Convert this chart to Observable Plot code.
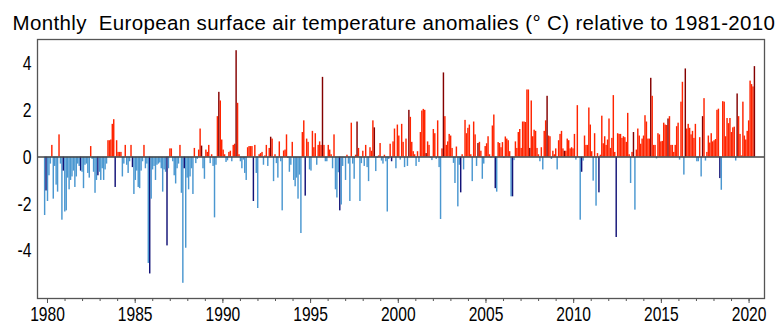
<!DOCTYPE html>
<html>
<head>
<meta charset="utf-8">
<script src="https://cdn.jsdelivr.net/npm/d3@7"></script>
<script src="https://cdn.jsdelivr.net/npm/@observablehq/plot@0.6"></script>
<style>
  html, body { margin: 0; padding: 0; background: #fff; }
  #chart { position: relative; width: 782px; height: 327px; }
  #chart svg { display: block; position: absolute; left: 0; top: 0; }
</style>
</head>
<body>
<div id="chart"></div>
<script>
const titleText = "Monthly  European surface air temperature anomalies (° C) relative to 1981-2010";
const firstYear = 1979;
const anomalies = [
  // 1979
  -2.5, -1.45, -1.9, -0.8, -0.3, 0.5, -1.8, -0.4, -1.2, -1.5, 0.95, -0.3,
  // 1980
  -2.7, -0.6, -2.35, -2.3, -0.9, -1.4, -1.0, -0.85, -0.6, -1.3, -0.85, -0.3,
  // 1981
  -0.4, -0.6, -0.65, -1.35, -0.35, -0.3, -0.7, -0.9, 0.45, -0.1, -0.65, -1.55,
  // 1982
  -1.0, -0.8, -0.65, -1.0, -0.5, -1.0, -0.55, -0.3, 0.7, 0.7, 0.73, 1.4,
  // 1983
  1.6, -1.3, 0.7, 0.2, 0.2, 0.2, -0.85, -0.3, 0.5, -0.35, -0.7, -0.2,
  // 1984
  0.5, -0.45, -1.6, -1.0, -0.6, -1.3, -1.35, -0.6, -0.2, 0.5, -0.5, -0.3,
  // 1985
  -4.55, -5.0, -1.8, -0.55, -0.4, -1.0, -0.35, -0.3, -0.25, -0.5, -1.5, -0.55,
  // 1986
  -0.65, -3.8, -0.5, 0.35, 0.35, -0.2, -0.8, -1.15, -0.5, -0.3, 0.5, -1.55,
  // 1987
  -5.4, -0.5, -3.9, -0.9, -1.4, -0.85, -0.5, -1.6, 0.37, -0.28, -0.1, 0.3,
  // 1988
  1.2, 0.47, -0.5, -0.95, 0.3, 0.2, 0.5, -0.28, 0.1, -0.4, -2.6, -0.35,
  // 1989
  1.73, 2.77, 2.4, 0.73, 0.3, 0.1, -0.23, -0.16, 0.2, 0.25, -0.2, 0.5,
  // 1990
  0.55, 4.55, 2.3, 0.1, -0.2, -0.5, -0.13, -0.7, -1.0, 0.4, 0.45, 0.45,
  // 1991
  0.45, -1.9, 0.5, -0.7, -2.2, 0.1, 0.15, 0.2, -0.35, 0.05, 0.5, -0.4,
  // 1992
  0.37, 0.85, 0.77, -1.05, 0.1, -0.28, -0.9, 0.65, -0.2, -2.3, 0.26, 0.3,
  // 1993
  0.95, -0.05, -0.65, -0.35, 0.63, -1.0, -1.27, -0.9, -1.8, -0.77, -3.27, 1.05,
  // 1994
  1.55, -1.67, 0.77, 0.63, -0.55, -0.6, 1.1, 0.4, 1.0, -0.35, 0.5, 0.65,
  // 1995
  0.5, 3.41, 0.5, -0.2, -0.2, 0.5, 0.3, 0.1, -0.5, 0.95, -1.4, -1.75,
  // 1996
  -0.67, -2.3, -2.05, -0.4, -0.05, -1.0, 0.08, -0.3, -1.9, 1.45, -0.3, -0.95,
  // 1997
  0.08, 1.5, 0.37, -1.9, -0.28, 0.25, -0.4, 0.5, -0.45, -1.05, 0.4, 0.25,
  // 1998
  1.55, 1.25, -0.62, -0.05, 0.05, 0.58, -0.17, -0.3, 0.08, -0.2, -2.35, -0.1,
  // 1999
  0.55, -0.2, 0.65, 1.2, -0.5, 1.37, 0.9, -0.13, 1.4, 0.63, -0.45, 0.77,
  // 2000
  -0.4, 2.0, 1.7, 0.63, 0.23, 0.1, -0.4, 0.23, -0.23, 1.05, 1.97, 2.04,
  // 2001
  2.0, 0.15, 0.65, 0.5, -0.05, -0.15, 1.18, 1.0, -0.1, 1.55, -0.45, -2.67,
  // 2002
  0.35, 3.6, 1.73, 0.5, 0.65, 0.97, 0.9, 0.37, -0.27, -1.13, 0.43, -2.13,
  // 2003
  -0.35, -1.53, 0.1, -0.55, 1.57, 1.0, 1.23, 1.37, 0.1, -1.05, 1.5, 0.95,
  // 2004
  -0.4, 0.58, 0.63, 0.25, -0.95, -0.3, 0.45, 0.57, 0.87, 0.1, -0.05, 1.33,
  // 2005
  1.8, -1.35, -1.5, 0.62, 0.58, 0.4, 0.62, -0.05, 0.86, 0.77, 0.7, 0.23,
  // 2006
  -1.7, -1.7, -0.15, 0.65, 0.37, 1.05, 1.18, 0.37, 1.5, 1.5, 1.48, 2.87,
  // 2007
  2.87, 0.37, 2.4, 0.87, 1.15, 1.1, 0.37, 0.1, -0.2, 0.4, -0.55, 1.1,
  // 2008
  1.55, 2.6, 0.9, 0.87, -0.1, 0.25, 0.1, 0.35, -0.55, 0.7, 0.97, 1.1,
  // 2009
  0.35, 0.25, 0.25, 0.77, 0.7, 0.35, 0.4, 0.35, 0.97, -0.13, 2.2, 0.02,
  // 2010
  -2.7, -0.65, -0.17, 0.9, 0.5, 0.5, 2.1, 1.37, 0.23, -1.03, 1.0, -2.1,
  // 2011
  0.15, -1.53, 0.08, 1.75, 0.57, 0.87, 0.5, 0.73, 1.63, 0.37, 0.8, 2.63,
  // 2012
  0.2, -3.44, 1.0, 0.97, 0.97, 0.8, 0.87, 0.83, 0.63, 1.87, 0.1, -1.13,
  // 2013
  0.2, 1.05, -2.27, 0.3, 1.2, 0.9, 0.55, 0.77, 0.9, 1.77, 1.5, 0.77,
  // 2014
  0.77, 3.37, 2.6, 0.5, 0.5, -0.08, 1.0, 0.95, 0.65, 0.67, 1.45, 1.37,
  // 2015
  1.35, 1.63, 1.73, 0.5, 0.5, 0.2, 0.5, 1.3, 1.45, -0.13, 2.35, 3.2,
  // 2016
  -0.77, 3.77, 1.2, 1.4, 1.23, 0.95, 1.1, 0.8, 1.4, -0.2, -0.2, 0.83,
  // 2017
  -0.85, 1.73, 2.5, -0.17, 0.2, 0.9, 0.6, 1.0, 0.65, 0.7, 0.75, 2.0,
  // 2018
  2.05, -0.92, -1.42, 2.37, 2.35, 0.87, 1.65, 1.43, 1.65, 1.05, 1.25, 1.28,
  // 2019
  -0.17, 2.7, 1.73, 0.97, 0.05, 2.35, 0.9, 0.73, 1.1, 1.55, 3.25, 3.1,
  // 2020
  3.0, 3.87
];
const highlightMonth = 1; // February (0 = January)
const xLabelYears = [1980, 1985, 1990, 1995, 2000, 2005, 2010, 2015, 2020];
const xMinorYears = d3.range(1980, 2021);
const yTickValues = [-4, -2, 0, 2, 4];

const colors = {warm: "#ff2400", warmHighlight: "#840000", cold: "#4a97d0", coldHighlight: "#121277"};

const table = anomalies.map((v, i) => {
  const hi = (i % 12) === highlightMonth;
  return {
    t0: firstYear + i / 12,
    t1: firstYear + (i + 1) / 12,
    value: v,
    color: v >= 0 ? (hi ? colors.warmHighlight : colors.warm) : (hi ? colors.coldHighlight : colors.cold)
  };
});

const common = {
  width: 782,
  height: 327,
  marginLeft: 37,
  marginRight: 18,
  marginTop: 39,
  marginBottom: 29,
  style: {fontFamily: "'Liberation Sans', Arial, Helvetica, sans-serif", fontSize: "16px", color: "#000", background: "transparent", overflow: "visible"}
};

// bars, frame, y axis, title
const chart = Plot.plot({
  ...common,
  style: {...common.style, background: "#fff"},
  x: {domain: [1978.6, 2020.68]},
  y: {domain: [-6.05, 5.03]},
  marks: [
    Plot.rectY(table, {x1: "t0", x2: "t1", y1: 0, y2: "value", fill: "color", inset: 0}),
    Plot.ruleY([0], {stroke: "#444", strokeWidth: 1.5}),
    Plot.frame({stroke: "#555", strokeWidth: 1.3}),
    Plot.axisX({ticks: [], label: null}),
    Plot.axisY({ticks: yTickValues, tickSize: 0, tickPadding: 6, label: null,
      tickFormat: d => d < 0 ? "-" + Math.abs(d) : String(d), fontSize: 21}),
    Plot.text([titleText], {frameAnchor: "top-left", textAnchor: "start", lineAnchor: "bottom",
      dx: -25, dy: -10, fontSize: 20.5, fill: "#000", text: d => d})
  ]
});

// year axis as labelled in the reference
const axisChart = Plot.plot({
  ...common,
  x: {domain: [1979.43, 2020.88]},
  y: {domain: [-6.05, 5.03], axis: null},
  marks: [
    Plot.axisX({ticks: xMinorYears, tickSize: 3, tickFormat: () => "", stroke: "#555", label: null}),
    Plot.axisX({ticks: xLabelYears, tickSize: 5, tickPadding: 3, label: null,
      tickFormat: d => String(d), stroke: "#555", fontSize: 20})
  ]
});

function condense(svg, selector, k) {
  svg.querySelectorAll(selector).forEach(t => {
    const tr = t.getAttribute("transform") || "";
    t.setAttribute("transform", tr + ` scale(${k},1)`);
  });
}
condense(chart, 'g[aria-label="y-axis tick label"] text', 0.75);
condense(axisChart, 'g[aria-label="x-axis tick label"] text', 0.78);
chart.querySelectorAll("text").forEach(t => { t.setAttribute("xml:space", "preserve"); t.style.whiteSpace = "pre"; });
chart.querySelectorAll('g[aria-label="text"] text').forEach(t => t.setAttribute("letter-spacing", "0.35"));

const host = document.getElementById("chart");
host.appendChild(chart);
host.appendChild(axisChart);
</script>
</body>
</html>
